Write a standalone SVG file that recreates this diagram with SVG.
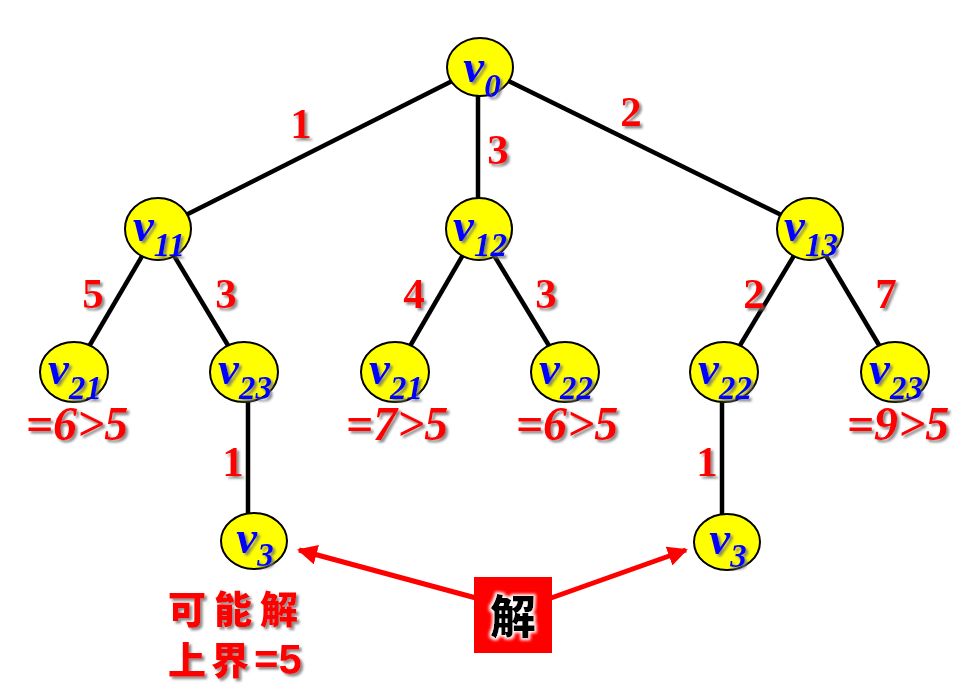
<svg xmlns="http://www.w3.org/2000/svg" width="955" height="686" viewBox="0 0 955 686">
<defs>
<filter id="sh" x="-20%" y="-20%" width="150%" height="150%">
<feDropShadow dx="2.5" dy="2.5" stdDeviation="1" flood-color="#707070" flood-opacity="0.8"/>
</filter>
<filter id="glow" x="-30%" y="-30%" width="160%" height="160%">
<feMorphology in="SourceAlpha" operator="dilate" radius="2" result="d"/>
<feGaussianBlur in="d" stdDeviation="1.5" result="b"/>
<feFlood flood-color="#ffffff"/>
<feComposite in2="b" operator="in" result="w"/>
<feMerge><feMergeNode in="w"/><feMergeNode in="SourceGraphic"/></feMerge>
</filter>
<marker id="ah" viewBox="0 0 10 10" refX="9" refY="5" markerWidth="4" markerHeight="4" orient="auto" markerUnits="strokeWidth">
<path d="M0,0 L10,5 L0,10 z" fill="#ff0000"/>
</marker>
<style>
.node ellipse{fill:#ffff00;stroke:#000;stroke-width:2}
.lbl{font-family:"Liberation Serif","Times New Roman",serif;font-weight:bold;font-style:italic;fill:#0000ff;font-size:47px;filter:url(#sh)}
.sub{font-size:33px}
.ew{font-family:"Liberation Serif","Times New Roman",serif;font-weight:bold;fill:#ff0000;font-size:43px;filter:url(#sh)}
.cond{font-family:"Liberation Serif","Times New Roman",serif;font-weight:bold;font-style:italic;fill:#ff0000;font-size:48px;filter:url(#sh)}
.cn{font-family:"Noto Sans CJK SC","Noto Sans CJK JP",sans-serif;font-weight:900;fill:#ff0000;font-size:38px;filter:url(#sh)}
.edges line{stroke:#000;stroke-width:4.5}
.arr line{stroke:#ff0000;stroke-width:5}
</style>
</defs>
<rect width="955" height="686" fill="#ffffff"/>
<g class="edges" id="connectors">
<line x1="480" y1="67" x2="158" y2="229"/>
<line x1="478" y1="67" x2="478" y2="229"/>
<line x1="480" y1="67" x2="810" y2="229"/>
<line x1="158" y1="229" x2="74" y2="372"/>
<line x1="158" y1="229" x2="244" y2="372"/>
<line x1="478" y1="229" x2="395" y2="372"/>
<line x1="478" y1="229" x2="565" y2="372"/>
<line x1="810" y1="229" x2="724" y2="372"/>
<line x1="810" y1="229" x2="895" y2="372"/>
<line x1="248" y1="372" x2="248" y2="541"/>
<line x1="722" y1="372" x2="722" y2="541"/>
</g>
<g id="edge-labels">
<text class="ew" x="301" y="138" text-anchor="middle">1</text>
<text class="ew" x="498" y="164" text-anchor="middle">3</text>
<text class="ew" x="631" y="126" text-anchor="middle">2</text>
<text class="ew" x="93" y="308" text-anchor="middle">5</text>
<text class="ew" x="226" y="308" text-anchor="middle">3</text>
<text class="ew" x="414" y="308" text-anchor="middle">4</text>
<text class="ew" x="546" y="308" text-anchor="middle">3</text>
<text class="ew" x="754" y="308" text-anchor="middle">2</text>
<text class="ew" x="886" y="308" text-anchor="middle">7</text>
<text class="ew" x="233" y="476" text-anchor="middle">1</text>
<text class="ew" x="707" y="476" text-anchor="middle">1</text>
</g>
<g class="node" id="v0"><ellipse cx="480" cy="67" rx="33" ry="29"/><text class="lbl" x="482" y="82" text-anchor="middle">v<tspan class="sub" dy="15">0</tspan></text></g>
<g class="node" id="v11"><ellipse cx="158" cy="229" rx="33" ry="31"/><text class="lbl" x="159" y="241" text-anchor="middle">v<tspan class="sub" dy="15">11</tspan></text></g>
<g class="node" id="v12"><ellipse cx="479" cy="229" rx="33" ry="31"/><text class="lbl" x="480" y="241" text-anchor="middle">v<tspan class="sub" dy="15">12</tspan></text></g>
<g class="node" id="v13"><ellipse cx="810" cy="229" rx="33" ry="31"/><text class="lbl" x="811" y="241" text-anchor="middle">v<tspan class="sub" dy="15">13</tspan></text></g>
<g class="node" id="v21a"><ellipse cx="74" cy="372" rx="34" ry="30"/><text class="lbl" x="75" y="384" text-anchor="middle">v<tspan class="sub" dy="15">21</tspan></text></g>
<g class="node" id="v23a"><ellipse cx="244" cy="372" rx="34" ry="30"/><text class="lbl" x="245" y="384" text-anchor="middle">v<tspan class="sub" dy="15">23</tspan></text></g>
<g class="node" id="v21b"><ellipse cx="395" cy="372" rx="34" ry="30"/><text class="lbl" x="396" y="384" text-anchor="middle">v<tspan class="sub" dy="15">21</tspan></text></g>
<g class="node" id="v22a"><ellipse cx="565" cy="372" rx="34" ry="30"/><text class="lbl" x="566" y="384" text-anchor="middle">v<tspan class="sub" dy="15">22</tspan></text></g>
<g class="node" id="v22b"><ellipse cx="724" cy="372" rx="34" ry="30"/><text class="lbl" x="725" y="384" text-anchor="middle">v<tspan class="sub" dy="15">22</tspan></text></g>
<g class="node" id="v23b"><ellipse cx="895" cy="372" rx="34" ry="30"/><text class="lbl" x="896" y="384" text-anchor="middle">v<tspan class="sub" dy="15">23</tspan></text></g>
<g class="node" id="v3a"><ellipse cx="254" cy="541" rx="33" ry="28"/><text class="lbl" x="255" y="553" text-anchor="middle">v<tspan class="sub" dy="13">3</tspan></text></g>
<g class="node" id="v3b"><ellipse cx="727" cy="542" rx="33" ry="28"/><text class="lbl" x="728" y="554" text-anchor="middle">v<tspan class="sub" dy="13">3</tspan></text></g>
<g id="conditions">
<text class="cond" x="77" y="440" text-anchor="middle">=6&gt;5</text>
<text class="cond" x="397" y="440" text-anchor="middle">=7&gt;5</text>
<text class="cond" x="567" y="440" text-anchor="middle">=6&gt;5</text>
<text class="cond" x="898" y="440" text-anchor="middle">=9&gt;5</text>
</g>
<g id="note">
<text class="cn" x="168" y="623" letter-spacing="8">可能解</text>
<text class="cn" x="168" y="674" letter-spacing="5">上界<tspan font-family="Liberation Sans,Arial,sans-serif" font-weight="bold" font-size="42" letter-spacing="0">=5</tspan></text>
</g>
<g class="arr" id="arrows">
<line x1="476" y1="598" x2="299" y2="550" marker-end="url(#ah)"/>
<line x1="551" y1="598" x2="686" y2="550" marker-end="url(#ah)"/>
</g>
<g id="sol">
<rect x="474" y="577" width="78" height="76" fill="#ff0000"/>
<text x="513" y="633" text-anchor="middle" font-family="Noto Sans CJK SC,Noto Sans CJK JP,sans-serif" font-weight="900" font-size="46" fill="#000" filter="url(#glow)">解</text>
</g>
</svg>
